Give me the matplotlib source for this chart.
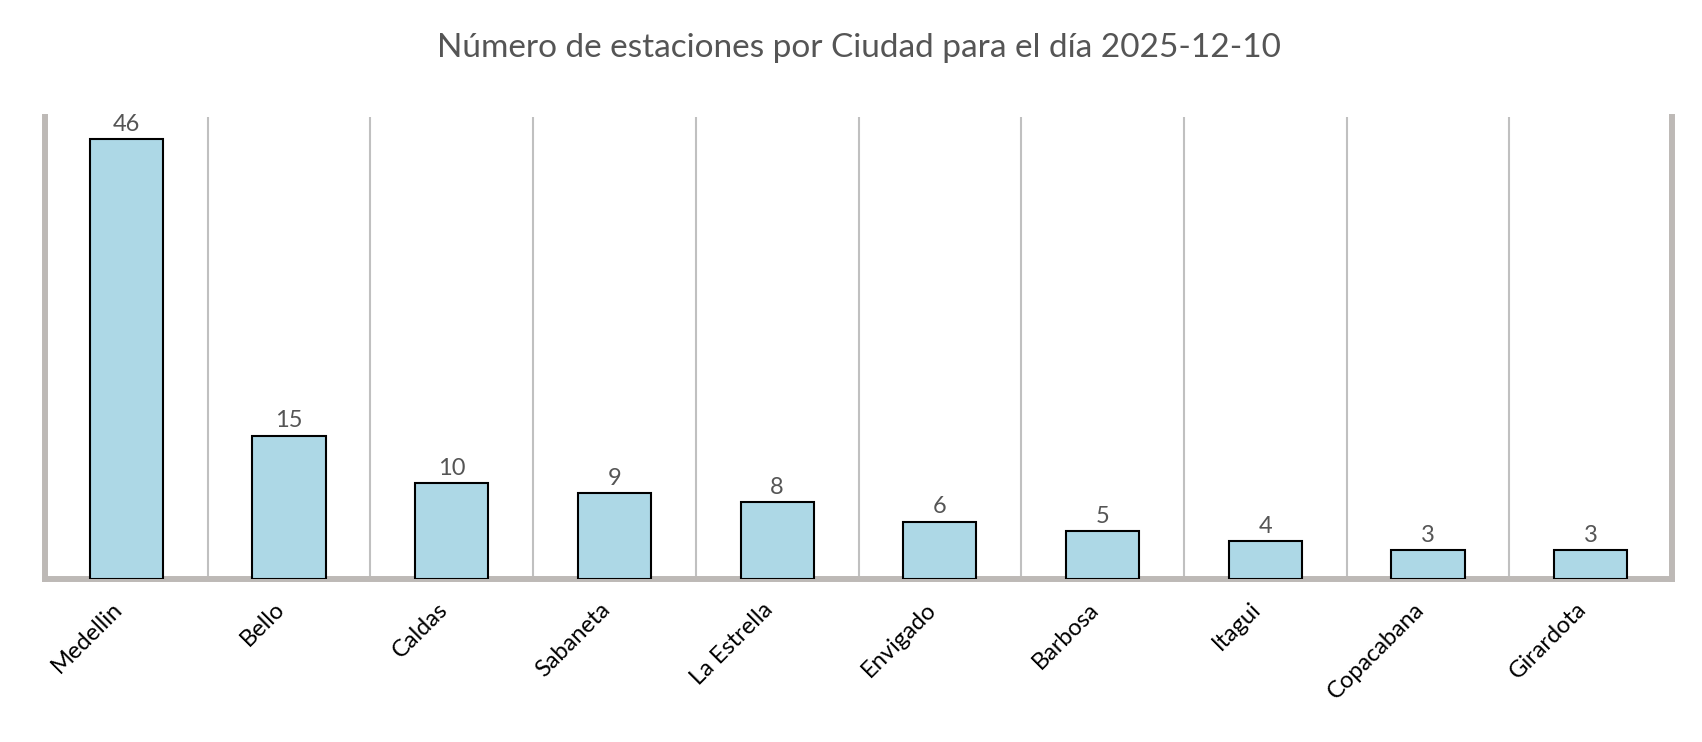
import matplotlib
matplotlib.use("Agg")
import matplotlib.pyplot as plt
import numpy as np

ciudades = ["Medellin", "Bello", "Caldas", "Sabaneta", "La Estrella",
            "Envigado", "Barbosa", "Itagui", "Copacabana", "Girardota"]
estaciones = [46, 15, 10, 9, 8, 6, 5, 4, 3, 3]
titulo = "Número de estaciones por Ciudad para el día 2025-12-10"

plt.rcParams['font.family'] = ['Lato', 'DejaVu Sans']

fig = plt.figure(figsize=(17.02, 7.42), dpi=100)
ax = fig.add_axes([45/1702, 1-579/742, (1672-45)/1702, (579-117)/742])

x = np.arange(len(ciudades))
bars = ax.bar(x, estaciones, width=0.45, color="#add8e6", edgecolor="black",
              linewidth=1.5, zorder=3)
for xi, v in zip(x, estaciones):
    ax.annotate(str(v), (xi, v), xytext=(0, 3), textcoords="offset points",
                ha="center", va="bottom", fontsize=17, color="#555555")

ax.set_xlim(-0.5, len(ciudades) - 0.5)
ax.set_ylim(0, max(estaciones) * 1.05)
ax.set_xticks(x)
ax.set_xticklabels(ciudades, rotation=45, ha="right",
                   fontsize=17, color="black")
ax.tick_params(axis="x", length=0, pad=14)
ax.set_yticks([])

ax.set_xticks(np.arange(0.5, len(ciudades) - 0.5, 1), minor=True)
ax.tick_params(axis="x", which="minor", length=0)
ax.grid(axis="x", which="minor", color="#c0c0c0", linewidth=1.5, zorder=0)
ax.grid(axis="x", which="major", visible=False)

for side in ["left", "right", "bottom"]:
    ax.spines[side].set_color("#bdb9b6")
    ax.spines[side].set_linewidth(4.3)
ax.spines["top"].set_visible(False)

fig.text((45 + 1672) / 2 / 1702, 1 - 48/742, titulo, ha="center", va="center",
         fontsize=24, color="#555555")

fig.savefig("out.png", dpi=100)
